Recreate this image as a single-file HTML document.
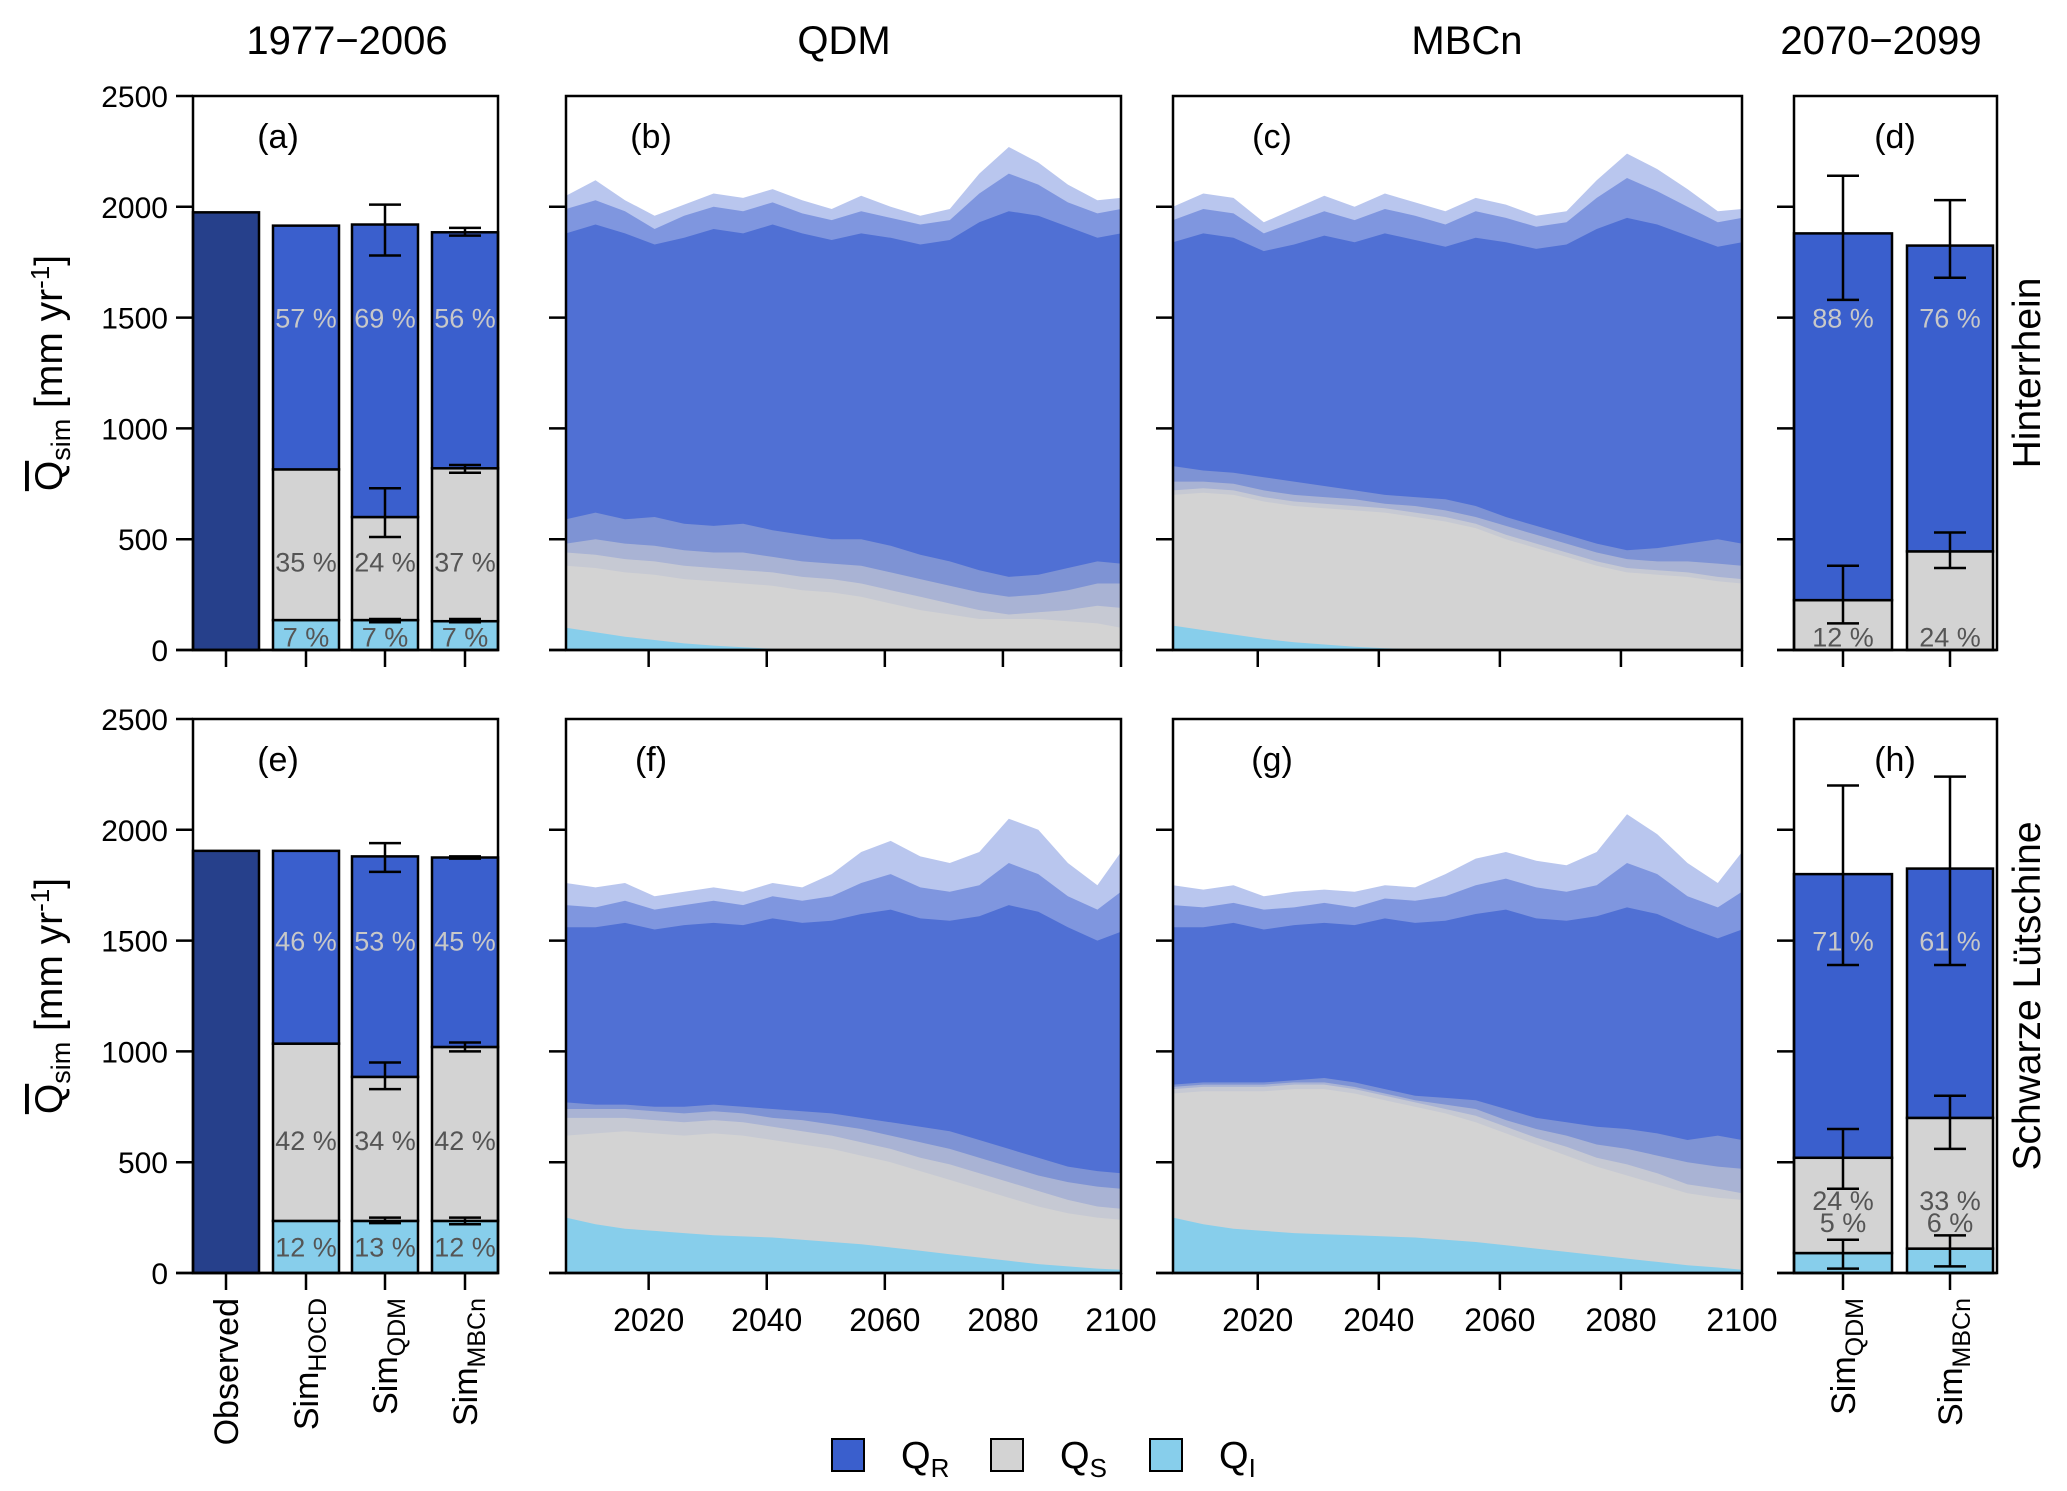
<!DOCTYPE html>
<html><head><meta charset="utf-8"><style>
html,body{margin:0;padding:0;background:#fff}
svg{display:block;font-family:"Liberation Sans",Arial,sans-serif}
</style></head><body>
<svg id="fig" width="2067" height="1491" viewBox="0 0 2067 1491" xmlns="http://www.w3.org/2000/svg"></svg>
<script>
// ---- data ----
const years = [2006,2011,2016,2021,2026,2031,2036,2041,2046,2051,2056,2061,2066,2071,2076,2081,2086,2091,2096,2100];
// Hinterrhein QDM (b)
const bTotHi = [2050,2120,2030,1960,2010,2060,2040,2080,2030,1990,2050,2000,1960,1990,2150,2270,2200,2100,2030,2040];
const bTotMid = [1990,2030,1980,1900,1960,2000,1980,2020,1970,1940,1980,1950,1920,1940,2060,2150,2100,2020,1970,1990];
const bTotLo = [1880,1920,1880,1830,1860,1900,1880,1920,1880,1850,1880,1860,1830,1850,1930,1980,1960,1910,1860,1880];
const bSnowHi = [590,620,590,600,570,560,570,540,520,500,500,470,430,400,360,330,340,370,400,390];
const bSnowMid = [480,500,480,470,450,440,440,420,400,390,380,350,320,290,260,240,250,270,300,300];
const bSnowLo = [440,430,410,400,380,370,360,350,330,320,300,270,240,210,180,160,170,180,200,190];
const bSnowCore = [380,370,350,340,320,310,300,290,270,260,240,210,180,160,140,140,140,130,120,100];
const bIce = [100,80,60,45,30,20,12,6,2,0,0,0,0,0,0,0,0,0,0,0];
// Hinterrhein MBCn (c)
const cTotHi = [2000,2060,2040,1930,1990,2050,2000,2060,2020,1980,2040,2010,1960,1980,2120,2240,2170,2080,1980,1990];
const cTotMid = [1940,1990,1970,1880,1930,1980,1940,1990,1960,1920,1980,1950,1910,1930,2040,2130,2070,2000,1930,1950];
const cTotLo = [1840,1880,1860,1800,1830,1870,1840,1880,1850,1820,1860,1840,1810,1830,1900,1950,1920,1870,1820,1840];
const cSnowHi = [830,810,800,780,760,740,720,700,690,680,650,600,560,520,480,450,460,480,500,480];
const cSnowMid = [760,760,750,720,700,690,680,660,650,630,600,560,520,480,440,410,400,400,390,380];
const cSnowLo = [720,730,720,690,670,660,650,640,620,600,570,520,480,440,400,370,360,350,330,320];
const cSnowCore = [700,710,700,670,650,640,630,620,600,580,550,500,460,420,380,350,340,330,310,300];
const cIce = [110,90,70,50,35,25,15,8,3,0,0,0,0,0,0,0,0,0,0,0];
// Schwarze Lütschine QDM (f)
const fTotHi = [1760,1740,1760,1700,1720,1740,1720,1760,1740,1800,1900,1950,1880,1850,1900,2050,2000,1850,1750,1900];
const fTotMid = [1660,1650,1680,1640,1660,1680,1660,1700,1680,1700,1760,1800,1740,1720,1750,1850,1800,1700,1640,1720];
const fTotLo = [1560,1560,1580,1550,1570,1580,1570,1600,1580,1590,1620,1640,1600,1590,1610,1660,1630,1560,1500,1540];
const fSnowHi = [770,760,760,750,750,760,750,740,730,720,700,680,660,640,600,560,520,480,460,450];
const fSnowMid = [740,740,740,730,720,730,720,700,690,670,650,620,590,560,520,480,440,410,390,380];
const fSnowLo = [700,700,700,690,680,690,680,660,640,620,590,560,520,490,450,410,370,330,300,290];
const fSnowCore = [620,630,640,630,620,630,620,600,580,560,530,500,460,420,380,340,300,270,250,240];
const fIce = [250,220,200,190,180,170,165,160,150,140,130,115,100,85,70,55,40,30,20,15];
// Schwarze Lütschine MBCn (g)
const gTotHi = [1750,1730,1750,1700,1720,1730,1720,1750,1740,1800,1870,1900,1860,1840,1900,2070,1980,1850,1760,1900];
const gTotMid = [1660,1650,1670,1640,1650,1670,1650,1690,1680,1700,1750,1780,1740,1720,1750,1850,1800,1700,1650,1720];
const gTotLo = [1560,1560,1580,1550,1570,1580,1570,1600,1580,1590,1620,1640,1600,1590,1610,1650,1620,1560,1510,1550];
const gSnowHi = [850,860,860,860,870,880,860,830,800,790,780,740,700,680,660,650,630,600,620,600];
const gSnowMid = [840,850,850,850,860,860,840,810,780,760,740,690,650,620,580,560,530,500,480,470];
const gSnowLo = [830,840,840,840,850,850,830,800,770,740,710,660,610,570,520,490,450,400,380,360];
const gSnowCore = [810,820,820,820,830,830,810,780,750,720,680,630,580,530,480,440,400,360,340,330];
const gIce = [250,220,200,190,180,175,170,165,160,150,140,125,110,95,80,65,50,35,25,15];

// bar data: [ice, snowTop, total]
const barCats = ["Observed","HOCD","QDM","MBCn"];
const aObs = 1975;
const aStacks = [[135,815,1915],[135,600,1920],[130,820,1885]];
const aErr = [null,[[125,140],[510,730],[1780,2010]],[[125,140],[800,835],[1870,1905]]];
const aPct = [["7 %","35 %","57 %"],["7 %","24 %","69 %"],["7 %","37 %","56 %"]];
const eObs = 1905;
const eStacks = [[235,1035,1905],[235,885,1880],[235,1020,1875]];
const eErr = [null,[[225,250],[830,950],[1810,1940]],[[220,250],[1000,1040],[1870,1880]]];
const ePct = [["12 %","42 %","46 %"],["13 %","34 %","53 %"],["12 %","42 %","45 %"]];
const dStacks = [[0,225,1880],[0,445,1825]];
const dErr = [[null,[120,380],[1580,2140]],[null,[370,530],[1680,2030]]];
const dPct = [[null,"12 %","88 %"],[null,"24 %","76 %"]];
const hStacks = [[90,520,1800],[110,700,1825]];
const hErr = [[[20,150],[380,650],[1390,2200]],[[30,170],[560,800],[1390,2240]]];
const hPct = [["5 %","24 %","71 %"],["6 %","33 %","61 %"]];
const yTicks = [0,500,1000,1500,2000,2500];
const xTicks = [2020,2040,2060,2080,2100];

// ---- layout ----
const NS="http://www.w3.org/2000/svg";
const svg=document.getElementById('fig');
const C={R:"#3A5FCD",A:"#5070D4",S:"#D3D3D3",I:"#87CEEB",O:"#26408B"};
const rows=[{top:96,bot:650},{top:719,bot:1273}];
const PX={a:[193,498],b:[566,1121],c:[1173,1742],d:[1794,1997]};
function mk(tag,attrs,parent){const e=document.createElementNS(NS,tag);for(const k in attrs)e.setAttribute(k,attrs[k]);(parent||svg).appendChild(e);return e;}
function yS(v,r){return rows[r].bot - v/2500*(rows[r].bot-rows[r].top);}
function xT(y,p){const [L,R]=PX[p];return L+(y-2006)/94*(R-L);}
function txt(s,x,y,size,attrs,name){const t=mk('text',Object.assign({x:x,y:y,'font-size':size,'text-anchor':'middle'},attrs||{}));t.textContent=s;


return t;}

function areaPath(vals,p,r){let d='M'+xT(years[0],p)+','+yS(0,r);
  years.forEach((y,i)=>{d+=' L'+xT(y,p).toFixed(1)+','+yS(vals[i],r).toFixed(1);});
  d+=' L'+xT(years[years.length-1],p)+','+yS(0,r)+' Z';return d;}

function drawArea(p,r,tot,snow,ice,g){
  const clipId='clip'+p+r;
  const cp=mk('clipPath',{id:clipId});mk('rect',{x:PX[p][0],y:rows[r].top,width:PX[p][1]-PX[p][0],height:rows[r].bot-rows[r].top},cp);
  const grp=mk('g',{'clip-path':'url(#'+clipId+')'});
  
  
  const tOp=[0.4,0.55,1];
  tot.forEach((s,i)=>{const e=mk('path',{d:areaPath(s,p,r),fill:C.A,'fill-opacity':tOp[i]},grp);
    
    });
  const sOp=[0.35,0.5,0.7,1];
  snow.forEach((s,i)=>{const e=mk('path',{d:areaPath(s,p,r),fill:C.S,'fill-opacity':sOp[i]},grp);
    
    });
  const e=mk('path',{d:areaPath(ice,p,r),fill:C.I},grp);
  
  
}

function frame(p,r,name){const [L,R]=PX[p];const f=mk('rect',{x:L,y:rows[r].top,width:R-L,height:rows[r].bot-rows[r].top,fill:'none',stroke:'#000','stroke-width':2.5});
  
  }
function yAxis(p,r,labels){const L=PX[p][0];
  yTicks.forEach(v=>{if(!labels&&(v===2500))return;const y=yS(v,r);mk('line',{x1:L-17,x2:L,y1:y,y2:y,stroke:'#000','stroke-width':2.5});
    if(labels)txt(String(v),L-25,y+11,30,{'text-anchor':'end'},'y-tick-label');});}
function xAxisTime(p,r,labels){xTicks.forEach(y=>{const x=xT(y,p);mk('line',{x1:x,x2:x,y1:rows[r].bot,y2:rows[r].bot+17,stroke:'#000','stroke-width':2.5});
  if(labels)txt(String(y),x,rows[r].bot+58,32,{},'x-tick-label');});
  mk('line',{x1:PX[p][0]-17,x2:PX[p][1],y1:rows[r].bot,y2:rows[r].bot,stroke:'#000','stroke-width':2.5});}

function bar(x,w,r,y0,y1,fill,name){const e=mk('rect',{x:x-w/2,y:yS(y1,r),width:w,height:yS(y0,r)-yS(y1,r),fill:fill,stroke:'#000','stroke-width':2.5});
  
  }
function err(x,r,lo,hi){const a=yS(lo,r),b=yS(hi,r);const g=mk('g',{stroke:'#000','stroke-width':2.5});
  
  
  mk('line',{x1:x,x2:x,y1:a,y2:b},g);mk('line',{x1:x-16,x2:x+16,y1:a,y2:a},g);mk('line',{x1:x-16,x2:x+16,y1:b,y2:b},g);}

function stackBars(centers,ws,r,stacks,errs,pcts,pctY){
  stacks.forEach((s,i)=>{const x=centers[i];const w=ws[i];
    if(s[0]>0)bar(x,w,r,0,s[0],C.I,'bar-ice');
    bar(x,w,r,s[0],s[1],C.S,'bar-snow');bar(x,w,r,s[1],s[2],C.R,'bar-rain');
    if(errs[i])errs[i].forEach(e=>{if(e)err(x,r,e[0],e[1]);});
    pcts[i].forEach((t,k)=>{if(!t)return;txt(t,x,yS(pctY[k],r)+10,27,{fill:k===2?'#C8C8C8':'#555'},'percent-label');});
  });
}

drawArea('b',0,[bTotHi,bTotMid,bTotLo],[bSnowHi,bSnowMid,bSnowLo,bSnowCore],bIce,'b');
drawArea('c',0,[cTotHi,cTotMid,cTotLo],[cSnowHi,cSnowMid,cSnowLo,cSnowCore],cIce,'c');
drawArea('b',1,[fTotHi,fTotMid,fTotLo],[fSnowHi,fSnowMid,fSnowLo,fSnowCore],fIce,'f');
drawArea('c',1,[gTotHi,gTotMid,gTotLo],[gSnowHi,gSnowMid,gSnowLo,gSnowCore],gIce,'g');

const aC=[226,306,385,465], bw=[66,66,66];
const dC=[1843,1950], dW=[98,86];
[0,1].forEach(r=>{
  const obs=r===0?aObs:eObs;
  bar(aC[0],66,r,0,obs,C.O,'bar-observed');
  stackBars(aC.slice(1),bw,r,r===0?aStacks:eStacks,r===0?aErr:eErr,r===0?aPct:ePct,r===0?[60,400,1500]:[120,600,1500]);
  stackBars(dC,dW,r,r===0?dStacks:hStacks,r===0?dErr:hErr,r===0?dPct:hPct,r===0?[60,60,1500]:[230,330,1500]);
  frame('a',r,'panel-frame');frame('b',r,'panel-frame');frame('c',r,'panel-frame');frame('d',r,'panel-frame');
  yAxis('a',r,true);yAxis('b',r,false);yAxis('c',r,false);yAxis('d',r,false);
  xAxisTime('b',r,r===1);xAxisTime('c',r,r===1);
  mk('line',{x1:PX.a[0]-17,x2:PX.a[1],y1:rows[r].bot,y2:rows[r].bot,stroke:'#000','stroke-width':2.5});
  mk('line',{x1:PX.d[0]-17,x2:PX.d[1],y1:rows[r].bot,y2:rows[r].bot,stroke:'#000','stroke-width':2.5});
  aC.forEach(x=>mk('line',{x1:x,x2:x,y1:rows[r].bot,y2:rows[r].bot+17,stroke:'#000','stroke-width':2.5}));
  dC.forEach(x=>mk('line',{x1:x,x2:x,y1:rows[r].bot,y2:rows[r].bot+17,stroke:'#000','stroke-width':2.5}));
  const yt=mk('text',{x:0,y:0,'font-size':39,'text-anchor':'middle',transform:'translate(62,'+((rows[r].top+rows[r].bot)/2)+') rotate(-90)'});
  
  
  yt.innerHTML='<tspan text-decoration="overline">Q</tspan><tspan font-size="27" dy="8">sim</tspan><tspan dy="-8"> [mm yr</tspan><tspan font-size="26" dy="-13">-1</tspan><tspan dy="13">]</tspan>';
  const labs=r===0?['(a)','(b)','(c)','(d)']:['(e)','(f)','(g)','(h)'];
  [278,651,1272,1895].forEach((x,i)=>txt(labs[i],x,rows[r].top+52,34,{},'panel-label'));
  const side=mk('text',{x:0,y:0,'font-size':39,'text-anchor':'middle',transform:'translate(2040,'+((rows[r].top+rows[r].bot)/2)+') rotate(-90)'});
  side.textContent=r===0?'Hinterrhein':'Schwarze Lütschine';
  
  
});
[['1977−2006',347],['QDM',844],['MBCn',1467],['2070−2099',1881]].forEach(t=>txt(t[0],t[1],54,40,{},'column-title'));
function rotLab(x,main,sub){const t=mk('text',{x:0,y:0,'font-size':34,'text-anchor':'end',transform:'translate('+(x+12)+',1298) rotate(-90)'});
  
  
  t.innerHTML=main+(sub?'<tspan font-size="25" dy="8">'+sub+'</tspan>':'');}
rotLab(226,'Observed');rotLab(306,'Sim','HOCD');rotLab(385,'Sim','QDM');rotLab(465,'Sim','MBCn');
rotLab(1843,'Sim','QDM');rotLab(1950,'Sim','MBCn');
[[832,C.R,'Q','R'],[991,C.S,'Q','S'],[1150,C.I,'Q','I']].forEach(l=>{
  const r=mk('rect',{x:l[0],y:1439,width:32,height:32,fill:l[1],stroke:'#000','stroke-width':2});
  
  
  const t=mk('text',{x:l[0]+69,y:1468,'font-size':38});
  
  
  t.innerHTML=l[2]+'<tspan font-size="26" dy="9">'+l[3]+'</tspan>';
});
</script>
</body></html>
